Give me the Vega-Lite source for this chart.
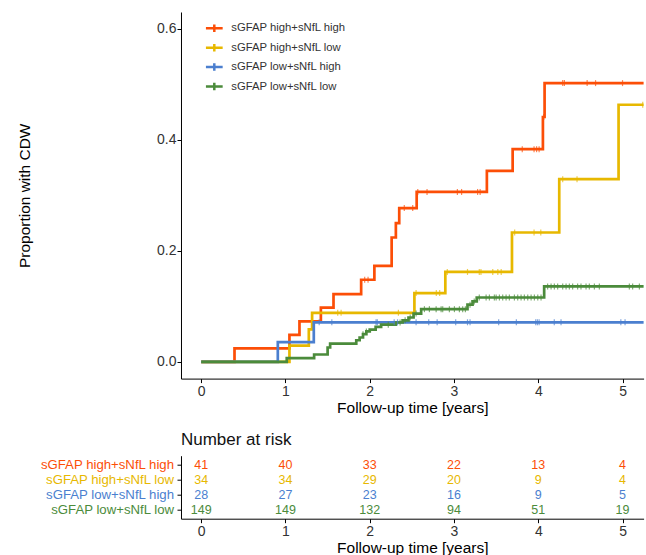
{
  "$schema": "https://vega.github.io/schema/vega-lite/v6.json",
  "padding": {"left": 17, "top": 12, "right": 0, "bottom": 0},
  "background": "white",
  "config": {
    "view": {"stroke": null},
    "font": "Liberation Sans",
    "axis": {"grid": false, "domainColor": "#000", "tickColor": "#000", "labelColor": "#333", "titleColor": "#000", "titleFontWeight": "normal", "labelFont": "Liberation Sans", "titleFont": "Liberation Sans", "domainWidth": 1, "tickWidth": 1}
  },
  "datasets": {
    "curve": [
      {"group": "sGFAP high+sNfL high", "t": 0, "p": 0},
      {"group": "sGFAP high+sNfL high", "t": 0.395, "p": 0.0244},
      {"group": "sGFAP high+sNfL high", "t": 1.047, "p": 0.0488},
      {"group": "sGFAP high+sNfL high", "t": 1.166, "p": 0.0732},
      {"group": "sGFAP high+sNfL high", "t": 1.42, "p": 0.0976},
      {"group": "sGFAP high+sNfL high", "t": 1.57, "p": 0.122},
      {"group": "sGFAP high+sNfL high", "t": 1.898, "p": 0.148},
      {"group": "sGFAP high+sNfL high", "t": 2.055, "p": 0.173},
      {"group": "sGFAP high+sNfL high", "t": 2.26, "p": 0.224},
      {"group": "sGFAP high+sNfL high", "t": 2.31, "p": 0.25},
      {"group": "sGFAP high+sNfL high", "t": 2.35, "p": 0.277},
      {"group": "sGFAP high+sNfL high", "t": 2.557, "p": 0.306},
      {"group": "sGFAP high+sNfL high", "t": 3.39, "p": 0.344},
      {"group": "sGFAP high+sNfL high", "t": 3.696, "p": 0.383},
      {"group": "sGFAP high+sNfL high", "t": 4.055, "p": 0.441},
      {"group": "sGFAP high+sNfL high", "t": 4.075, "p": 0.502},
      {"group": "sGFAP high+sNfL high", "t": 5.25, "p": 0.502},
      {"group": "sGFAP high+sNfL low", "t": 0, "p": 0},
      {"group": "sGFAP high+sNfL low", "t": 1.047, "p": 0.0294},
      {"group": "sGFAP high+sNfL low", "t": 1.277, "p": 0.0588},
      {"group": "sGFAP high+sNfL low", "t": 1.316, "p": 0.0885},
      {"group": "sGFAP high+sNfL low", "t": 2.53, "p": 0.124},
      {"group": "sGFAP high+sNfL low", "t": 2.897, "p": 0.162},
      {"group": "sGFAP high+sNfL low", "t": 3.688, "p": 0.233},
      {"group": "sGFAP high+sNfL low", "t": 4.249, "p": 0.329},
      {"group": "sGFAP high+sNfL low", "t": 4.953, "p": 0.463},
      {"group": "sGFAP high+sNfL low", "t": 5.25, "p": 0.463},
      {"group": "sGFAP low+sNfL high", "t": 0, "p": 0},
      {"group": "sGFAP low+sNfL high", "t": 0.909, "p": 0.0357},
      {"group": "sGFAP low+sNfL high", "t": 1.336, "p": 0.0714},
      {"group": "sGFAP low+sNfL high", "t": 5.25, "p": 0.0714},
      {"group": "sGFAP low+sNfL low", "t": 0, "p": 0},
      {"group": "sGFAP low+sNfL low", "t": 1.015, "p": 0.0067},
      {"group": "sGFAP low+sNfL low", "t": 1.34, "p": 0.0134},
      {"group": "sGFAP low+sNfL low", "t": 1.5, "p": 0.026},
      {"group": "sGFAP low+sNfL low", "t": 1.53, "p": 0.033},
      {"group": "sGFAP low+sNfL low", "t": 1.84, "p": 0.039},
      {"group": "sGFAP low+sNfL low", "t": 1.88, "p": 0.044},
      {"group": "sGFAP low+sNfL low", "t": 1.92, "p": 0.05},
      {"group": "sGFAP low+sNfL low", "t": 1.96, "p": 0.055},
      {"group": "sGFAP low+sNfL low", "t": 2.0, "p": 0.058},
      {"group": "sGFAP low+sNfL low", "t": 2.07, "p": 0.063},
      {"group": "sGFAP low+sNfL low", "t": 2.135, "p": 0.067},
      {"group": "sGFAP low+sNfL low", "t": 2.31, "p": 0.071},
      {"group": "sGFAP low+sNfL low", "t": 2.39, "p": 0.075},
      {"group": "sGFAP low+sNfL low", "t": 2.46, "p": 0.08},
      {"group": "sGFAP low+sNfL low", "t": 2.52, "p": 0.087},
      {"group": "sGFAP low+sNfL low", "t": 2.61, "p": 0.095},
      {"group": "sGFAP low+sNfL low", "t": 3.16, "p": 0.103},
      {"group": "sGFAP low+sNfL low", "t": 3.22, "p": 0.109},
      {"group": "sGFAP low+sNfL low", "t": 3.27, "p": 0.116},
      {"group": "sGFAP low+sNfL low", "t": 4.07, "p": 0.136},
      {"group": "sGFAP low+sNfL low", "t": 5.25, "p": 0.136}
    ],
    "censor": [
      {"group": "sGFAP high+sNfL high", "t": 1.94, "p": 0.148},
      {"group": "sGFAP high+sNfL high", "t": 1.98, "p": 0.148},
      {"group": "sGFAP high+sNfL high", "t": 2.41, "p": 0.277},
      {"group": "sGFAP high+sNfL high", "t": 2.51, "p": 0.277},
      {"group": "sGFAP high+sNfL high", "t": 2.57, "p": 0.306},
      {"group": "sGFAP high+sNfL high", "t": 2.68, "p": 0.306},
      {"group": "sGFAP high+sNfL high", "t": 3.04, "p": 0.306},
      {"group": "sGFAP high+sNfL high", "t": 3.09, "p": 0.306},
      {"group": "sGFAP high+sNfL high", "t": 3.28, "p": 0.306},
      {"group": "sGFAP high+sNfL high", "t": 3.31, "p": 0.306},
      {"group": "sGFAP high+sNfL high", "t": 3.81, "p": 0.383},
      {"group": "sGFAP high+sNfL high", "t": 3.95, "p": 0.383},
      {"group": "sGFAP high+sNfL high", "t": 3.98, "p": 0.383},
      {"group": "sGFAP high+sNfL high", "t": 4.01, "p": 0.383},
      {"group": "sGFAP high+sNfL high", "t": 4.065, "p": 0.441},
      {"group": "sGFAP high+sNfL high", "t": 4.29, "p": 0.502},
      {"group": "sGFAP high+sNfL high", "t": 4.31, "p": 0.502},
      {"group": "sGFAP high+sNfL high", "t": 4.58, "p": 0.502},
      {"group": "sGFAP high+sNfL high", "t": 4.68, "p": 0.502},
      {"group": "sGFAP high+sNfL high", "t": 5.0, "p": 0.502},
      {"group": "sGFAP high+sNfL low", "t": 1.62, "p": 0.0885},
      {"group": "sGFAP high+sNfL low", "t": 1.66, "p": 0.0885},
      {"group": "sGFAP high+sNfL low", "t": 2.34, "p": 0.0885},
      {"group": "sGFAP high+sNfL low", "t": 2.55, "p": 0.124},
      {"group": "sGFAP high+sNfL low", "t": 2.79, "p": 0.124},
      {"group": "sGFAP high+sNfL low", "t": 2.83, "p": 0.124},
      {"group": "sGFAP high+sNfL low", "t": 2.92, "p": 0.162},
      {"group": "sGFAP high+sNfL low", "t": 3.16, "p": 0.162},
      {"group": "sGFAP high+sNfL low", "t": 3.3, "p": 0.162},
      {"group": "sGFAP high+sNfL low", "t": 3.32, "p": 0.162},
      {"group": "sGFAP high+sNfL low", "t": 3.46, "p": 0.162},
      {"group": "sGFAP high+sNfL low", "t": 3.52, "p": 0.162},
      {"group": "sGFAP high+sNfL low", "t": 3.56, "p": 0.162},
      {"group": "sGFAP high+sNfL low", "t": 3.72, "p": 0.233},
      {"group": "sGFAP high+sNfL low", "t": 3.95, "p": 0.233},
      {"group": "sGFAP high+sNfL low", "t": 4.03, "p": 0.233},
      {"group": "sGFAP high+sNfL low", "t": 4.29, "p": 0.329},
      {"group": "sGFAP high+sNfL low", "t": 4.46, "p": 0.329},
      {"group": "sGFAP high+sNfL low", "t": 5.24, "p": 0.463},
      {"group": "sGFAP low+sNfL high", "t": 1.4, "p": 0.0714},
      {"group": "sGFAP low+sNfL high", "t": 1.55, "p": 0.0714},
      {"group": "sGFAP low+sNfL high", "t": 2.075, "p": 0.0714},
      {"group": "sGFAP low+sNfL high", "t": 2.09, "p": 0.0714},
      {"group": "sGFAP low+sNfL high", "t": 2.29, "p": 0.0714},
      {"group": "sGFAP low+sNfL high", "t": 2.33, "p": 0.0714},
      {"group": "sGFAP low+sNfL high", "t": 2.55, "p": 0.0714},
      {"group": "sGFAP low+sNfL high", "t": 2.7, "p": 0.0714},
      {"group": "sGFAP low+sNfL high", "t": 2.8, "p": 0.0714},
      {"group": "sGFAP low+sNfL high", "t": 3.02, "p": 0.0714},
      {"group": "sGFAP low+sNfL high", "t": 3.16, "p": 0.0714},
      {"group": "sGFAP low+sNfL high", "t": 3.19, "p": 0.0714},
      {"group": "sGFAP low+sNfL high", "t": 3.53, "p": 0.0714},
      {"group": "sGFAP low+sNfL high", "t": 3.74, "p": 0.0714},
      {"group": "sGFAP low+sNfL high", "t": 3.97, "p": 0.0714},
      {"group": "sGFAP low+sNfL high", "t": 3.99, "p": 0.0714},
      {"group": "sGFAP low+sNfL high", "t": 4.01, "p": 0.0714},
      {"group": "sGFAP low+sNfL high", "t": 4.19, "p": 0.0714},
      {"group": "sGFAP low+sNfL high", "t": 4.27, "p": 0.0714},
      {"group": "sGFAP low+sNfL high", "t": 4.98, "p": 0.0714},
      {"group": "sGFAP low+sNfL high", "t": 5.03, "p": 0.0714},
      {"group": "sGFAP low+sNfL low", "t": 1.92, "p": 0.05},
      {"group": "sGFAP low+sNfL low", "t": 1.96, "p": 0.055},
      {"group": "sGFAP low+sNfL low", "t": 2.22, "p": 0.067},
      {"group": "sGFAP low+sNfL low", "t": 2.36, "p": 0.071},
      {"group": "sGFAP low+sNfL low", "t": 2.42, "p": 0.075},
      {"group": "sGFAP low+sNfL low", "t": 2.48, "p": 0.08},
      {"group": "sGFAP low+sNfL low", "t": 2.55, "p": 0.087},
      {"group": "sGFAP low+sNfL low", "t": 2.649, "p": 0.095},
      {"group": "sGFAP low+sNfL low", "t": 2.708, "p": 0.095},
      {"group": "sGFAP low+sNfL low", "t": 2.788, "p": 0.095},
      {"group": "sGFAP low+sNfL low", "t": 2.847, "p": 0.095},
      {"group": "sGFAP low+sNfL low", "t": 2.866, "p": 0.095},
      {"group": "sGFAP low+sNfL low", "t": 2.945, "p": 0.095},
      {"group": "sGFAP low+sNfL low", "t": 3.005, "p": 0.095},
      {"group": "sGFAP low+sNfL low", "t": 3.064, "p": 0.095},
      {"group": "sGFAP low+sNfL low", "t": 3.103, "p": 0.095},
      {"group": "sGFAP low+sNfL low", "t": 3.135, "p": 0.095},
      {"group": "sGFAP low+sNfL low", "t": 3.19, "p": 0.103},
      {"group": "sGFAP low+sNfL low", "t": 3.24, "p": 0.109},
      {"group": "sGFAP low+sNfL low", "t": 3.3, "p": 0.116},
      {"group": "sGFAP low+sNfL low", "t": 3.381, "p": 0.116},
      {"group": "sGFAP low+sNfL low", "t": 3.42, "p": 0.116},
      {"group": "sGFAP low+sNfL low", "t": 3.479, "p": 0.116},
      {"group": "sGFAP low+sNfL low", "t": 3.5, "p": 0.116},
      {"group": "sGFAP low+sNfL low", "t": 3.539, "p": 0.116},
      {"group": "sGFAP low+sNfL low", "t": 3.578, "p": 0.116},
      {"group": "sGFAP low+sNfL low", "t": 3.618, "p": 0.116},
      {"group": "sGFAP low+sNfL low", "t": 3.657, "p": 0.116},
      {"group": "sGFAP low+sNfL low", "t": 3.717, "p": 0.116},
      {"group": "sGFAP low+sNfL low", "t": 3.756, "p": 0.116},
      {"group": "sGFAP low+sNfL low", "t": 3.796, "p": 0.116},
      {"group": "sGFAP low+sNfL low", "t": 3.835, "p": 0.116},
      {"group": "sGFAP low+sNfL low", "t": 3.875, "p": 0.116},
      {"group": "sGFAP low+sNfL low", "t": 3.915, "p": 0.116},
      {"group": "sGFAP low+sNfL low", "t": 3.954, "p": 0.116},
      {"group": "sGFAP low+sNfL low", "t": 3.994, "p": 0.116},
      {"group": "sGFAP low+sNfL low", "t": 4.033, "p": 0.116},
      {"group": "sGFAP low+sNfL low", "t": 4.111, "p": 0.136},
      {"group": "sGFAP low+sNfL low", "t": 4.152, "p": 0.136},
      {"group": "sGFAP low+sNfL low", "t": 4.191, "p": 0.136},
      {"group": "sGFAP low+sNfL low", "t": 4.23, "p": 0.136},
      {"group": "sGFAP low+sNfL low", "t": 4.29, "p": 0.136},
      {"group": "sGFAP low+sNfL low", "t": 4.33, "p": 0.136},
      {"group": "sGFAP low+sNfL low", "t": 4.369, "p": 0.136},
      {"group": "sGFAP low+sNfL low", "t": 4.408, "p": 0.136},
      {"group": "sGFAP low+sNfL low", "t": 4.467, "p": 0.136},
      {"group": "sGFAP low+sNfL low", "t": 4.507, "p": 0.136},
      {"group": "sGFAP low+sNfL low", "t": 4.567, "p": 0.136},
      {"group": "sGFAP low+sNfL low", "t": 4.606, "p": 0.136},
      {"group": "sGFAP low+sNfL low", "t": 4.666, "p": 0.136},
      {"group": "sGFAP low+sNfL low", "t": 4.725, "p": 0.136},
      {"group": "sGFAP low+sNfL low", "t": 5.081, "p": 0.136},
      {"group": "sGFAP low+sNfL low", "t": 5.12, "p": 0.136},
      {"group": "sGFAP low+sNfL low", "t": 5.2, "p": 0.136}
    ],
    "risk": [
      {"group": "sGFAP high+sNfL high", "t": 0, "n": 41},
      {"group": "sGFAP high+sNfL high", "t": 1, "n": 40},
      {"group": "sGFAP high+sNfL high", "t": 2, "n": 33},
      {"group": "sGFAP high+sNfL high", "t": 3, "n": 22},
      {"group": "sGFAP high+sNfL high", "t": 4, "n": 13},
      {"group": "sGFAP high+sNfL high", "t": 5, "n": 4},
      {"group": "sGFAP high+sNfL low", "t": 0, "n": 34},
      {"group": "sGFAP high+sNfL low", "t": 1, "n": 34},
      {"group": "sGFAP high+sNfL low", "t": 2, "n": 29},
      {"group": "sGFAP high+sNfL low", "t": 3, "n": 20},
      {"group": "sGFAP high+sNfL low", "t": 4, "n": 9},
      {"group": "sGFAP high+sNfL low", "t": 5, "n": 4},
      {"group": "sGFAP low+sNfL high", "t": 0, "n": 28},
      {"group": "sGFAP low+sNfL high", "t": 1, "n": 27},
      {"group": "sGFAP low+sNfL high", "t": 2, "n": 23},
      {"group": "sGFAP low+sNfL high", "t": 3, "n": 16},
      {"group": "sGFAP low+sNfL high", "t": 4, "n": 9},
      {"group": "sGFAP low+sNfL high", "t": 5, "n": 5},
      {"group": "sGFAP low+sNfL low", "t": 0, "n": 149},
      {"group": "sGFAP low+sNfL low", "t": 1, "n": 149},
      {"group": "sGFAP low+sNfL low", "t": 2, "n": 132},
      {"group": "sGFAP low+sNfL low", "t": 3, "n": 94},
      {"group": "sGFAP low+sNfL low", "t": 4, "n": 51},
      {"group": "sGFAP low+sNfL low", "t": 5, "n": 19}
    ]
  },
  "bounds": "flush",
  "spacing": 76.7,
  "resolve": {"scale": {"x": "independent", "y": "independent", "color": "independent"}, "legend": {"color": "independent"}, "axis": {"x": "independent", "y": "independent"}},
  "vconcat": [
    {
      "width": 462.6,
      "height": 366.6,
      "layer": [
        {
          "data": {"name": "curve"},
          "mark": {"type": "line", "interpolate": "step-after", "strokeWidth": 2.7},
          "encoding": {
            "x": {"field": "t", "type": "quantitative", "scale": {"domain": [-0.24, 5.25], "nice": false, "zero": false},
              "axis": {"values": [0, 1, 2, 3, 4, 5], "format": "d", "tickSize": 4, "labelPadding": 2, "labelFontSize": 14, "title": "Follow-up time [years]", "titleFontSize": 15.5, "titlePadding": 2}},
            "y": {"field": "p", "type": "quantitative", "scale": {"domain": [-0.03, 0.63], "nice": false, "zero": false},
              "axis": {"values": [0, 0.2, 0.4, 0.6], "format": ".1f", "tickSize": 4, "labelPadding": 1, "labelFontSize": 14, "title": "Proportion with CDW", "titleFontSize": 15.5, "titlePadding": 124}},
            "color": {"field": "group", "type": "nominal",
              "scale": {"domain": ["sGFAP high+sNfL high", "sGFAP high+sNfL low", "sGFAP low+sNfL high", "sGFAP low+sNfL low"], "range": ["#FC4E07", "#E7B800", "#4B7FCF", "#4B8B3B"]},
              "legend": {"orient": "none", "legendX": 23.3, "legendY": 6.3, "title": null, "symbolType": "M-1,0H1M0,-0.45V0.45", "symbolSize": 280, "symbolStrokeWidth": 2.5, "labelFontSize": 11.3, "labelFont": "Liberation Sans", "labelColor": "#333", "rowPadding": 0.4, "labelOffset": 7, "padding": 0}}
          }
        },
        {
          "data": {"name": "censor"},
          "mark": {"type": "tick", "orient": "vertical", "size": 6, "thickness": 1.2},
          "encoding": {
            "x": {"field": "t", "type": "quantitative"},
            "y": {"field": "p", "type": "quantitative"},
            "color": {"field": "group", "type": "nominal", "legend": null}
          }
        }
      ]
    },
    {
      "width": 462.6,
      "height": 63,
      "title": {"text": "Number at risk", "anchor": "start", "frame": "group", "fontSize": 17, "fontWeight": "normal", "color": "#111", "font": "Liberation Sans", "offset": 7},
      "data": {"name": "risk"},
      "mark": {"type": "text", "fontSize": 12.5, "font": "Liberation Sans"},
      "encoding": {
        "x": {"field": "t", "type": "quantitative", "scale": {"domain": [-0.24, 5.25], "nice": false, "zero": false},
          "axis": {"values": [0, 1, 2, 3, 4, 5], "format": "d", "tickSize": 4, "labelPadding": 2, "labelFontSize": 14, "title": "Follow-up time [years]", "titleFontSize": 15.5, "titlePadding": 2}},
        "y": {"field": "group", "type": "nominal", "sort": ["sGFAP high+sNfL high", "sGFAP high+sNfL low", "sGFAP low+sNfL high", "sGFAP low+sNfL low"],
          "scale": {"type": "point", "padding": 0.6},
          "axis": {"title": null, "tickSize": 4, "labelPadding": 3.5, "labelFontSize": 13.2,
            "labelColor": {"condition": [
              {"test": "datum.value === 'sGFAP high+sNfL high'", "value": "#FC4E07"},
              {"test": "datum.value === 'sGFAP high+sNfL low'", "value": "#E7B800"},
              {"test": "datum.value === 'sGFAP low+sNfL high'", "value": "#4B7FCF"}
            ], "value": "#4B8B3B"}}},
        "text": {"field": "n", "type": "quantitative"},
        "color": {"field": "group", "type": "nominal",
          "scale": {"domain": ["sGFAP high+sNfL high", "sGFAP high+sNfL low", "sGFAP low+sNfL high", "sGFAP low+sNfL low"], "range": ["#FC4E07", "#E7B800", "#4B7FCF", "#4B8B3B"]},
          "legend": null}
      }
    }
  ]
}
